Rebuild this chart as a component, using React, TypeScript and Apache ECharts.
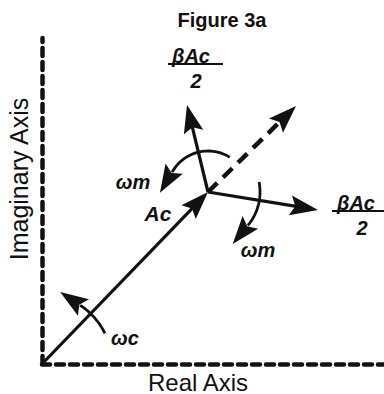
import React, { useEffect, useRef } from "react";
import * as echarts from "echarts";

// Phasor vectors on the complex plane (real, imaginary), data units
const vectorNames = ["Ac", "Ac direction", "βAc/2 (upper)", "βAc/2 (lower)"];
const vectorStartRe = [0, 166, 166, 166];
const vectorStartIm = [0, 172, 172, 172];
const vectorEndRe = [166, 254, 145, 276];
const vectorEndIm = [172, 258, 259, 154];
const vectorDashed = [0, 1, 0, 0];

// Rotation arcs: centre, radius, start / end angle in degrees
const arcNames = ["ωm (upper)", "ωm (lower)", "ωc"];
const arcCenterRe = [166, 166, 0];
const arcCenterIm = [172, 172, 0];
const arcRadius = [41, 52, 70];
const arcStartDeg = [58, 11, 26];
const arcEndDeg = [151, -40, 57];

// Axis extents
const realMax = 342;
const imagMax = 326;

export default function App() {
  const ref = useRef<HTMLDivElement>(null);

  useEffect(() => {
    const chart = echarts.init(ref.current as HTMLDivElement, null, { renderer: "svg" });
    const INK = "#111";
    const HEAD_LEN = 28;
    const HEAD_HALF = 10;

    const arrowHead = (tip: number[], ux: number, uy: number) => {
      const bx = tip[0] - ux * HEAD_LEN;
      const by = tip[1] - uy * HEAD_LEN;
      const nx = -uy;
      const ny = ux;
      return {
        type: "polygon",
        shape: {
          points: [
            [tip[0], tip[1]],
            [bx + nx * HEAD_HALF, by + ny * HEAD_HALF],
            [bx + ux * 5, by + uy * 5],
            [bx - nx * HEAD_HALF, by - ny * HEAD_HALF],
          ],
        },
        style: { fill: INK },
      };
    };

    const vectorData = vectorNames.map((n, i) => ({
      name: n,
      value: [vectorStartRe[i], vectorStartIm[i], vectorEndRe[i], vectorEndIm[i], vectorDashed[i]],
    }));

    const arcData = arcNames.map((n, i) => ({
      name: n,
      value: [arcCenterRe[i], arcCenterIm[i], arcRadius[i], arcStartDeg[i], arcEndDeg[i]],
    }));

    const font = (size: number, weight = "bold", style = "italic") =>
      `${style} ${weight} ${size}px "Liberation Sans", Arial, sans-serif`;

    const txt = (text: string, x: number, y: number, f: string, extra: any = {}, va = "middle") => ({
      type: "text",
      x,
      y,
      ...extra,
      style: { text, font: f, fill: INK, textAlign: "center", textVerticalAlign: va },
    });

    chart.setOption({
      animation: false,
      backgroundColor: "#fff",
      grid: { left: 42, right: 0, top: 38, bottom: 30 },
      xAxis: {
        type: "value",
        min: 0,
        max: realMax,
        axisLine: { show: true, onZero: false, lineStyle: { color: INK, width: 4.5, type: [8, 6] } },
        axisTick: { show: false },
        axisLabel: { show: false },
        splitLine: { show: false },
      },
      yAxis: {
        type: "value",
        min: 0,
        max: imagMax,
        axisLine: { show: true, onZero: false, lineStyle: { color: INK, width: 4.5, type: [8, 6] } },
        axisTick: { show: false },
        axisLabel: { show: false },
        splitLine: { show: false },
      },
      series: [
        {
          type: "custom",
          name: "vectors",
          clip: false,
          data: vectorData,
          renderItem: (params: any, api: any) => {
            const s = api.coord([api.value(0), api.value(1)]);
            const e = api.coord([api.value(2), api.value(3)]);
            const dashed = api.value(4) === 1;
            const dx = e[0] - s[0];
            const dy = e[1] - s[1];
            const len = Math.hypot(dx, dy);
            const ux = dx / len;
            const uy = dy / len;
            const end = len - HEAD_LEN + 6;
            return {
              type: "group",
              children: [
                {
                  type: "line",
                  shape: { x1: s[0], y1: s[1], x2: s[0] + ux * end, y2: s[1] + uy * end },
                  style: { stroke: INK, lineWidth: dashed ? 4.5 : 3.2, lineDash: dashed ? [13, 8] : null },
                },
                arrowHead(e, ux, uy),
              ],
            };
          },
        },
        {
          type: "custom",
          name: "arcs",
          clip: false,
          data: arcData,
          renderItem: (params: any, api: any) => {
            const cx = api.value(0);
            const cy = api.value(1);
            const r = api.value(2);
            const a0 = api.value(3);
            const a1 = api.value(4);
            const steps = 30;
            const pts: number[][] = [];
            for (let k = 0; k <= steps; k++) {
              const a = ((a0 + ((a1 - a0) * k) / steps) * Math.PI) / 180;
              pts.push(api.coord([cx + r * Math.cos(a), cy + r * Math.sin(a)]));
            }
            const last = pts[pts.length - 1];
            const prev = pts[pts.length - 2];
            const dx = last[0] - prev[0];
            const dy = last[1] - prev[1];
            const l = Math.hypot(dx, dy);
            const ux = dx / l;
            const uy = dy / l;
            const tip = [last[0] + ux * (HEAD_LEN - 4), last[1] + uy * (HEAD_LEN - 4)];
            return {
              type: "group",
              children: [
                { type: "polyline", shape: { points: pts }, style: { stroke: INK, lineWidth: 2.8, fill: null } },
                arrowHead(tip, ux, uy),
              ],
            };
          },
        },
      ],
      graphic: [
        txt("Figure 3a", 222, 20, font(20, "bold", "normal")),
        txt("βAc", 191, 56, font(20)),
        { type: "line", shape: { x1: 168, y1: 64, x2: 223, y2: 64 }, style: { stroke: INK, lineWidth: 2.2 } },
        txt("2", 196, 81, font(20)),
        txt("βAc", 356, 203, font(20)),
        { type: "line", shape: { x1: 332, y1: 211, x2: 384, y2: 211 }, style: { stroke: INK, lineWidth: 2.2 } },
        txt("2", 362, 228, font(20)),
        txt("ωm", 133, 182, font(20)),
        txt("Ac", 158, 213, font(21)),
        txt("ωm", 258, 250, font(20)),
        txt("ωc", 125, 338, font(20)),
        txt("Real Axis", 198, 394, font(24, "normal", "normal"), {}, "bottom"),
        txt("Imaginary Axis", 19, 179, font(25, "normal", "normal"), { rotation: Math.PI / 2 }),
      ],
    });

    return () => chart.dispose();
  }, []);

  return (
    <div
      ref={ref}
      style={{ position: "fixed", left: 0, top: 0, width: 384, height: 394, background: "#fff" }}
    />
  );
}
